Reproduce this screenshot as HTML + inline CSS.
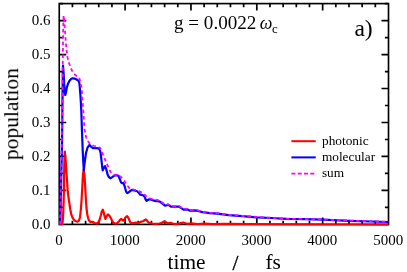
<!DOCTYPE html>
<html><head><meta charset="utf-8"><title>population</title>
<style>
html,body{margin:0;padding:0;background:#fff;}
body{width:407px;height:272px;overflow:hidden;}
svg .tx{will-change:opacity;mix-blend-mode:darken;}
svg{display:block;font-family:"Liberation Serif",serif;fill:#000;}
</style></head><body>
<svg width="407" height="272" viewBox="0 0 407 272">
<rect width="407" height="272" fill="#fff"/>
<rect x="59.25" y="3.6" width="329.25" height="220.80" fill="none" stroke="#000" stroke-width="1.65"/>
<path d="M72.42 224.40V220.80 M72.42 3.60V7.20 M85.59 224.40V220.80 M85.59 3.60V7.20 M98.76 224.40V220.80 M98.76 3.60V7.20 M111.93 224.40V220.80 M111.93 3.60V7.20 M125.10 224.40V217.40 M125.10 3.60V10.60 M138.27 224.40V220.80 M138.27 3.60V7.20 M151.44 224.40V220.80 M151.44 3.60V7.20 M164.61 224.40V220.80 M164.61 3.60V7.20 M177.78 224.40V220.80 M177.78 3.60V7.20 M190.95 224.40V217.40 M190.95 3.60V10.60 M204.12 224.40V220.80 M204.12 3.60V7.20 M217.29 224.40V220.80 M217.29 3.60V7.20 M230.46 224.40V220.80 M230.46 3.60V7.20 M243.63 224.40V220.80 M243.63 3.60V7.20 M256.80 224.40V217.40 M256.80 3.60V10.60 M269.97 224.40V220.80 M269.97 3.60V7.20 M283.14 224.40V220.80 M283.14 3.60V7.20 M296.31 224.40V220.80 M296.31 3.60V7.20 M309.48 224.40V220.80 M309.48 3.60V7.20 M322.65 224.40V217.40 M322.65 3.60V10.60 M335.82 224.40V220.80 M335.82 3.60V7.20 M348.99 224.40V220.80 M348.99 3.60V7.20 M362.16 224.40V220.80 M362.16 3.60V7.20 M375.33 224.40V220.80 M375.33 3.60V7.20 M59.25 207.42H62.85 M388.50 207.42H384.90 M59.25 190.43H66.25 M388.50 190.43H381.50 M59.25 173.45H62.85 M388.50 173.45H384.90 M59.25 156.46H66.25 M388.50 156.46H381.50 M59.25 139.48H62.85 M388.50 139.48H384.90 M59.25 122.49H66.25 M388.50 122.49H381.50 M59.25 105.51H62.85 M388.50 105.51H384.90 M59.25 88.52H66.25 M388.50 88.52H381.50 M59.25 71.54H62.85 M388.50 71.54H384.90 M59.25 54.55H66.25 M388.50 54.55H381.50 M59.25 37.57H62.85 M388.50 37.57H384.90 M59.25 20.58H66.25 M388.50 20.58H381.50 M59.25 3.60H62.85 M388.50 3.60H384.90" stroke="#000" stroke-width="1.7" fill="none"/>
<g class="tx" font-size="15.0px"><text x="50.5" y="229.10" text-anchor="end">0.0</text><text x="50.5" y="195.13" text-anchor="end">0.1</text><text x="50.5" y="161.16" text-anchor="end">0.2</text><text x="50.5" y="127.19" text-anchor="end">0.3</text><text x="50.5" y="93.22" text-anchor="end">0.4</text><text x="50.5" y="59.25" text-anchor="end">0.5</text><text x="50.5" y="25.28" text-anchor="end">0.6</text><text x="58.95" y="244.7" text-anchor="middle">0</text><text x="124.80" y="244.7" text-anchor="middle">1000</text><text x="190.65" y="244.7" text-anchor="middle">2000</text><text x="256.50" y="244.7" text-anchor="middle">3000</text><text x="322.35" y="244.7" text-anchor="middle">4000</text><text x="388.20" y="244.7" text-anchor="middle">5000</text></g>
<polyline points="59.5,224.4 61.6,224.3 62.2,223.6 62.7,221.5 63.2,214.0 63.6,203.0 63.9,190.0 64.1,175.0 64.4,160.0 64.8,151.5 65.5,158.0 66.3,170.0 67.0,180.0 67.6,189.4 68.5,197.5 69.5,204.2 70.3,209.5 71.3,214.5 72.6,217.9 74.2,220.2 76.0,221.3 77.6,221.7 78.9,220.8 80.0,217.2 80.9,209.0 81.6,199.7 82.4,185.0 83.0,174.0 83.8,169.3 84.4,174.0 85.1,185.0 85.9,199.7 86.5,208.0 87.3,214.5 88.1,218.0 88.9,220.4 90.5,222.0 92.5,221.8 94.5,223.0 96.9,223.6 98.3,222.4 99.7,219.5 100.8,215.5 101.8,211.5 102.8,209.7 103.6,212.0 104.6,216.5 105.4,218.9 106.5,216.5 107.9,214.5 109.2,215.4 110.5,217.5 112.0,220.5 113.5,222.8 115.7,223.7 117.5,223.0 118.8,221.6 120.0,219.8 121.2,218.9 122.3,219.9 123.2,220.6 124.3,219.5 125.3,217.8 126.3,216.6 127.1,216.2 128.0,217.2 129.2,219.8 130.3,222.2 131.5,223.4 133.5,223.2 135.6,222.6 138.5,222.8 139.5,222.2 141.5,221.6 143.0,221.2 144.5,220.3 145.8,219.5 147.0,220.6 148.3,222.2 149.5,223.0 152.0,223.5 156.0,223.8 159.5,223.5 161.0,223.1 162.3,222.6 163.6,221.7 164.9,221.3 166.2,222.3 167.8,223.4 169.3,223.1 170.8,222.8 172.5,223.5 175.9,224.2 179.0,223.6 181.5,222.8 183.3,222.5 185.5,223.3 187.1,223.8 191.5,223.3 197.4,224.1 204.8,223.7 212.2,224.2 225.0,223.8 250.0,224.2 300.0,224.3 350.0,224.5 388.6,224.6" fill="none" stroke="#f00" stroke-width="2.2" stroke-linejoin="round" stroke-linecap="butt"/>
<polyline points="60.3,224.4 60.7,205.0 61.3,175.0 61.9,150.0 62.3,120.0 62.6,90.0 62.8,75.0 63.0,65.5 63.6,73.0 64.3,86.0 65.0,93.5 65.3,95.0 66.0,92.0 67.0,86.8 68.0,83.8 69.5,80.8 71.0,79.0 72.8,78.3 75.0,78.7 77.0,79.7 78.5,80.9 79.3,82.8 79.7,86.0 80.0,90.5 80.4,95.0 80.9,103.0 81.3,111.0 81.9,129.0 82.6,148.0 83.3,162.0 83.8,170.1 84.6,163.0 86.0,153.0 87.5,147.7 89.5,145.0 91.3,146.8 93.0,148.1 96.0,148.1 98.7,148.3 100.0,150.5 100.6,152.7 101.4,159.7 102.1,166.0 102.7,170.3 103.8,168.0 105.0,166.2 106.2,169.0 107.6,174.4 108.8,176.9 110.3,178.3 112.0,177.4 113.6,176.0 115.0,175.2 117.0,175.3 118.6,176.0 119.8,179.0 121.0,182.4 122.3,183.2 123.5,183.1 124.5,185.8 125.3,188.8 126.2,191.8 127.2,193.1 128.8,192.2 130.5,190.8 132.0,189.9 134.5,190.5 137.2,191.3 138.8,192.8 140.1,194.6 143.0,195.3 144.6,196.8 145.6,199.3 146.6,200.9 148.0,199.9 149.6,199.1 152.0,200.0 154.7,200.9 157.5,201.2 159.9,201.6 162.5,203.6 165.0,205.7 166.8,205.3 168.0,204.8 169.5,205.6 170.9,206.7 175.0,206.7 179.0,206.7 181.0,207.9 183.4,209.6 187.1,209.3 190.0,210.7 195.0,210.4 198.9,211.2 202.4,212.1 209.7,213.2 217.1,213.6 225.0,214.6 228.8,215.2 242.1,216.2 256.5,217.3 270.9,218.0 286.4,218.9 305.0,219.2 322.7,219.7 349.2,220.8 371.4,221.5 388.4,222.0" fill="none" stroke="#00f" stroke-width="2.2" stroke-linejoin="round" stroke-linecap="butt"/>
<polyline points="60.2,224.4 60.5,205.0 61.0,175.0 61.6,150.0 62.0,120.0 62.4,90.0 62.8,60.0 63.1,35.0 63.4,20.0 63.6,15.6 64.0,18.0 64.6,25.0 65.5,38.0 66.5,50.0 67.5,57.4 68.5,61.5 69.7,64.7 71.2,68.8 72.7,72.1 75.0,74.8 77.0,76.2 78.6,77.3 79.6,79.0 80.4,82.4 81.0,85.0 81.5,87.4 82.1,95.0 82.7,103.0 83.2,109.5 83.6,115.0 84.1,123.0 84.7,129.7 85.4,134.0 86.1,137.1 87.4,140.5 89.2,143.0 91.5,144.8 94.3,146.0 97.5,147.0 100.0,147.7 101.0,149.5 102.2,152.6 103.5,156.0 105.1,159.7 107.5,165.5 110.3,171.5 112.5,174.0 114.0,175.0 115.2,174.7 119.6,175.9 122.0,178.0 124.7,181.4 127.0,185.0 129.2,188.0 131.0,189.2 133.6,189.5 136.5,190.2 139.5,191.3 142.5,193.0 145.4,195.4 147.5,197.3 149.8,198.4 153.0,199.3 157.2,199.8 160.1,201.0 162.8,203.0 165.3,204.8 168.0,204.2 169.5,205.0 170.9,206.1 175.0,206.1 179.0,206.1 181.0,207.3 183.4,209.0 187.1,208.7 190.0,210.1 195.0,209.8 198.9,210.6 202.4,211.7 209.7,212.8 217.1,213.2 225.0,214.2 228.8,214.8 242.1,215.8 256.5,216.9 270.9,217.8 286.4,218.7 305.0,219.0 322.7,219.5 349.2,220.6 371.4,221.3 388.4,221.8" fill="none" stroke="#f0f" stroke-width="1.8" stroke-dasharray="3.6 2.8" stroke-linejoin="round"/>
<g class="tx" font-size="21.33px">
<text transform="translate(18.2 160.1) rotate(-90)" font-size="21.5px">population</text>
<text x="167.6" y="269.4">time</text>
<text x="232.5" y="269.6" stroke="#000" stroke-width="0.35">/</text>
<text x="265.5" y="268.9">fs</text>
</g>
<g class="tx"><text x="174.0" y="29.4" font-size="19.1px">g = 0.0022 <tspan font-style="italic" font-size="17.9px" dx="-1.4">ω</tspan><tspan font-size="12.8px" dx="-0.4" dy="3.5">c</tspan></text>
<text x="354.4" y="35.9" font-size="23.6px">a)</text></g>
<g stroke-width="2" fill="none">
<path d="M291.4 141.2H315.7" stroke="#f00"/>
<path d="M291.4 157.4H315.7" stroke="#00f"/>
<path d="M291.4 173.6H315.7" stroke="#f0f" stroke-width="1.6" stroke-dasharray="4 2.3"/>
</g>
<g class="tx" font-size="13.33px">
<text x="322.0" y="144.6">photonic</text>
<text x="321.9" y="160.8">molecular</text>
<text x="321.9" y="177">sum</text>
</g>
</svg>
</body></html>
